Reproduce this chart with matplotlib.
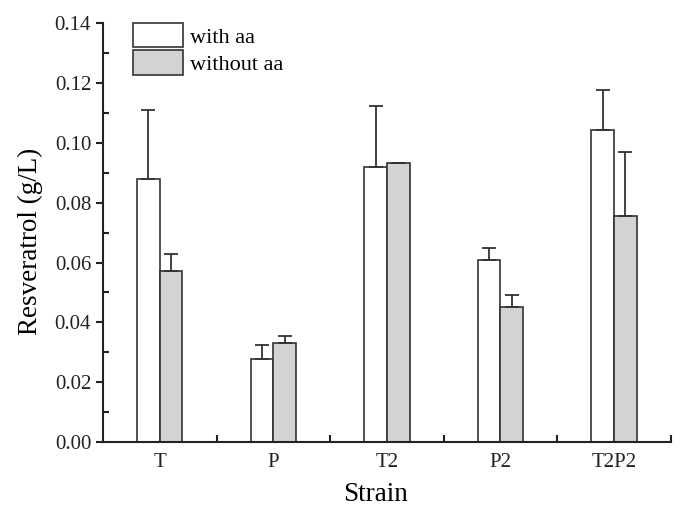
import matplotlib
matplotlib.use("Agg")
import matplotlib.pyplot as plt
import numpy as np
from matplotlib.patches import Patch
from matplotlib.ticker import MultipleLocator, FixedLocator

strains = ["T", "P", "T2", "P2", "T2P2"]
with_aa = [0.088, 0.0277, 0.0918, 0.0607, 0.1042]
with_aa_err = [0.023, 0.0046, 0.0206, 0.0041, 0.0136]
without_aa = [0.0572, 0.0332, 0.0933, 0.0450, 0.0757]
without_aa_err = [0.0056, 0.0023, 0.0, 0.0043, 0.0212]
series_labels = ["with aa", "without aa"]

plt.rcParams['font.family'] = ['Liberation Serif', 'DejaVu Serif']

fig = plt.figure(figsize=(6.84, 5.14), dpi=100)
ax = fig.add_axes([0.1506, 0.140, 0.830, 0.815])

x = np.arange(len(strains))
w = 0.2
edge = '#333333'
gray = '#d3d3d3'
ekw = dict(ecolor='#333333', elinewidth=1.3, capsize=5, capthick=1.3)

ax.bar(x - w/2, with_aa, w, color='white', edgecolor=edge, linewidth=1.2,
       yerr=[np.zeros(len(x)), with_aa_err], error_kw=ekw, zorder=2)
ax.bar(x + w/2, without_aa, w, color=gray, edgecolor=edge, linewidth=1.2,
       yerr=[np.zeros(len(x)), without_aa_err], error_kw=ekw, zorder=2)

ax.set_xlim(-0.5, len(strains) - 0.5)
ax.set_ylim(0, 0.14)
ax.set_xticks(x)
ax.set_xticklabels(strains)
ax.xaxis.set_minor_locator(FixedLocator(np.arange(-0.5, len(strains), 1.0)[1:]))
ax.yaxis.set_major_locator(MultipleLocator(0.02))
ax.yaxis.set_minor_locator(MultipleLocator(0.01))
ax.yaxis.set_major_formatter(matplotlib.ticker.FormatStrFormatter('%.2f'))

for s in ['top', 'right']:
    ax.spines[s].set_visible(False)
for s in ['left', 'bottom']:
    ax.spines[s].set_linewidth(1.5)
    ax.spines[s].set_color('#222222')

ax.tick_params(axis='x', which='major', length=0, labelsize=15, pad=8, colors='#222222')
ax.tick_params(axis='x', which='minor', direction='in', length=5, width=1.5, color='#222222')
ax.tick_params(axis='y', which='major', direction='out', length=5, width=1.5, labelsize=15, colors='#222222')
ax.tick_params(axis='y', which='minor', direction='in', length=4, width=1.5, color='#222222')

ax.set_xlabel("Strain", fontsize=19.5)
ax.set_ylabel("Resveratrol (g/L)", fontsize=19.5)
ax.xaxis.set_label_coords(0.48, -0.095)
ax.yaxis.set_label_coords(-0.105, 0.48)

handles = [Patch(facecolor='white', edgecolor=edge, linewidth=1.2),
           Patch(facecolor=gray, edgecolor=edge, linewidth=1.2)]
ax.legend(handles, series_labels, loc='upper left', bbox_to_anchor=(0.053, 1.0),
          frameon=False, fontsize=16, handlelength=2.25, handleheight=1.3,
          labelspacing=0.12, handletextpad=0.3, borderaxespad=0, borderpad=0)

fig.savefig("out.png", dpi=100)
